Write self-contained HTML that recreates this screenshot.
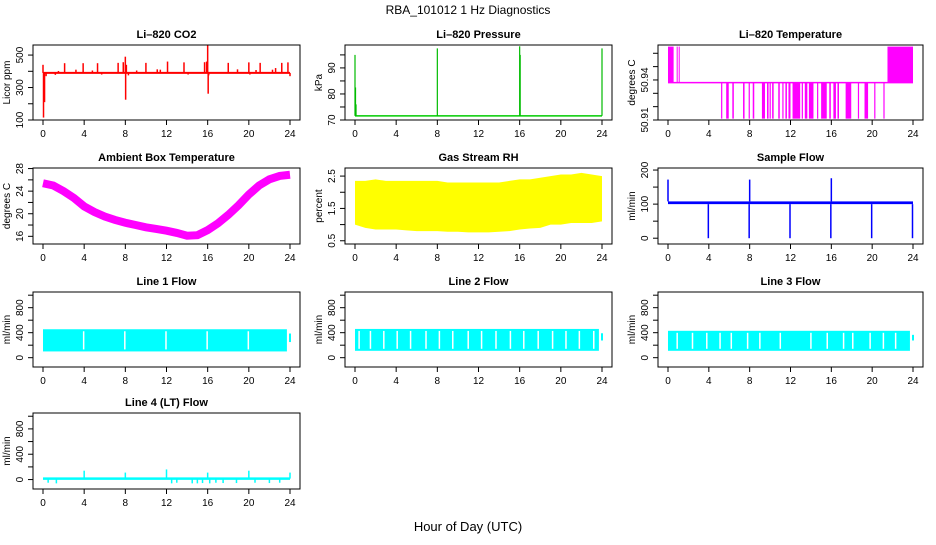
<!DOCTYPE html>
<html><head><meta charset="utf-8"><style>
body{margin:0;background:#fff;width:936px;height:540px;overflow:hidden}
svg text{font-family:"Liberation Sans",sans-serif;fill:#000}
</style></head><body>
<svg id="chart" width="936" height="540" viewBox="0 0 936 540">
<text x="468" y="14" text-anchor="middle" font-size="12">RBA_101012  1 Hz Diagnostics</text>
<text x="468" y="531" text-anchor="middle" font-size="13">Hour of Day (UTC)</text>
</svg>
<script>
const xTicks=[0,4,8,12,16,20,24];
// CO2
const co2Base=390;
const co2Spikes=[[0,440],[0.05,115],[0.15,210],[0.3,370],[1.2,378],[1.5,402],[2.1,450],[3.2,410],[3.9,450],[4.8,405],[5.3,450],[5.7,380],[7.3,452],[7.8,456],[8,490],[8.03,225],[8.1,440],[8.3,375],[9.1,405],[10,452],[11.1,412],[11.4,410],[12.1,460],[13.7,455],[14.1,380],[15.7,456],[15.9,460],[16,565],[16.05,262],[16.1,375],[18,452],[18.9,412],[20,455],[20.1,380],[20.7,408],[21.1,452],[22.3,410],[22.6,420],[23.2,452],[23.8,455],[24,370]];
// Pressure
const presBase=71.6;
const presSpikes=[[0,95],[0.05,82.5],[0.1,76],[8,97.5],[16,98.3],[16.05,95],[24,97.5]];
// Li-820 temperature steps
const tempHigh=50.965, tempMid=50.938, tempLow=50.911;
const tempHighBlocks=[[0,0.55],[0.85,0.9],[1.05,1.1],[21.5,24]];
const tempLowBlocks=[[5.2,5.25],[5.7,5.95],[6.3,6.45],[7.35,7.5],[7.9,7.95],[8.3,8.45],[9.2,9.5],[9.7,9.85],[9.95,10.05],[10.2,10.35],[10.8,10.95],[11.2,11.3],[11.5,11.65],[11.8,12.0],[12.2,12.95],[13.1,13.2],[13.4,13.65],[13.8,14.25],[14.6,14.7],[15.0,15.55],[15.8,15.95],[16.2,16.45],[16.6,16.75],[17.4,17.95],[18.6,18.7],[19.25,19.6],[20.2,20.3],[21.1,21.15]];
// Ambient box temperature (hourly)
const ambHours=[0,1,2,3,4,5,6,7,8,9,10,11,12,13,14,15,16,17,18,19,20,21,22,23,24];
const ambVals=[25.4,25,24,22.8,21.3,20.3,19.5,18.9,18.4,18,17.6,17.3,17,16.6,16.1,16.2,17.1,18.3,19.8,21.5,23.4,25,26.1,26.7,26.9];
// Gas Stream RH band (hourly min/max)
const rhHours=[0,1,2,3,4,5,6,7,8,9,10,11,12,13,14,15,16,17,18,19,20,21,22,23,24];
const rhMin=[1.0,0.9,0.85,0.85,0.85,0.82,0.8,0.8,0.8,0.78,0.78,0.76,0.76,0.76,0.78,0.8,0.85,0.88,0.9,1.0,1.0,1.05,1.05,1.05,1.1];
const rhMax=[2.35,2.35,2.4,2.35,2.35,2.35,2.35,2.35,2.35,2.3,2.3,2.3,2.3,2.3,2.3,2.35,2.4,2.4,2.45,2.5,2.55,2.55,2.6,2.55,2.5];
// Sample flow
const sfBase=[100,108];
const sfDrops=[4,8,12,16,20,24];
const sfSpikes=[[0,172],[8,172],[16,176]];
// Line flows
const l1Band=[100,455];
const l1Gaps=[3.95,7.95,11.95,15.95,19.95];
const l2Band=[110,460];
const l2Gaps=[0.4,1.5,2.8,4.1,5.4,6.9,8.2,9.5,11.0,12.3,13.7,15.1,16.4,17.8,19.2,20.5,21.8,23.2];
const l3Band=[110,430];
const l3Gaps=[0.9,2.4,3.8,5.1,6.2,7.8,9.0,11.0,14.0,15.6,17.2,18.1,19.8,21.1,22.3];
const l4Base=15;
const l4Spikes=[[4,140],[8,110],[12,160],[16,110],[20,140],[24,110],[0.5,-50],[1.3,-60],[12.5,-60],[13,-50],[14.5,-60],[15,-60],[15.5,-55],[16.2,-60],[16.8,-50],[17.5,-55],[18.8,-55],[20.6,-50],[22,-55],[23,-50]];

const cols=[[33,300],[345,612],[658,923]];
const rows=[[45,120],[168,244],[292,367],[413,489]];
const svg=document.getElementById('chart');
const NS='http://www.w3.org/2000/svg';
function mk(tag,attrs,parent){const e=document.createElementNS(NS,tag);for(const k in attrs)e.setAttribute(k,attrs[k]);(parent||svg).appendChild(e);return e;}

function panel(name,title,ylab,c,r,ymin,ymax,yt,yl){
  const [L,R]=cols[c],[T,B]=rows[r];
  const g=mk('g',{});
  
  
  const xs=h=>L+10+h/24*(R-L-20);
  const ys=v=>B-(v-ymin)/(ymax-ymin)*(B-T);
  const t=mk('text',{x:(L+R)/2,y:T-7,'text-anchor':'middle','font-size':'11','font-weight':'bold'},g);t.textContent=title;
  
  
  const pg=mk('g',{},g);
  
  
  const box=mk('rect',{x:L,y:T,width:R-L,height:B-T,fill:'none',stroke:'#000','stroke-width':1},g);
  
  
  const ax=mk('g',{},g);
  
  
  xTicks.forEach(h=>{mk('line',{x1:xs(h),x2:xs(h),y1:B,y2:B+5,stroke:'#000'},ax);
    const tt=mk('text',{x:xs(h),y:B+17,'text-anchor':'middle','font-size':'10'},ax);tt.textContent=h;});
  const ay=mk('g',{},g);
  
  
  yt.forEach(v=>{mk('line',{x1:L-5,x2:L,y1:ys(v),y2:ys(v),stroke:'#000'},ay);});
  yl.forEach(v=>{const tt=mk('text',{x:L-10,y:ys(v),'text-anchor':'middle','font-size':'10',transform:`rotate(-90 ${L-10} ${ys(v)})`},ay);tt.textContent=v;});
  const yt2=mk('text',{x:L-23,y:(T+B)/2,'text-anchor':'middle','font-size':'10',transform:`rotate(-90 ${L-23} ${(T+B)/2})`},ay);yt2.textContent=ylab;
  
  
  return {g:pg,xs,ys};
}
function lineEl(p,x1,y1,x2,y2,col,w){return mk('line',{x1,y1,x2,y2,stroke:col,'stroke-width':w||1},p.g);}

// CO2
let p=panel('co2','Li\u2013820 CO2','Licor ppm',0,0,100,562,[100,200,300,400,500],[100,300,500]);
lineEl(p,p.xs(0),p.ys(co2Base),p.xs(24),p.ys(co2Base),'#f00',2);
co2Spikes.forEach(s=>{const l=lineEl(p,p.xs(s[0]),p.ys(co2Base),p.xs(s[0]),p.ys(s[1]),'#f00',1.5);});
// Pressure
p=panel('pressure','Li\u2013820 Pressure','kPa',1,0,70,98.8,[70,75,80,85,90,95],[70,80,90]);
lineEl(p,p.xs(0),p.ys(presBase),p.xs(24),p.ys(presBase),'#0c0',1.5);
presSpikes.forEach(s=>{lineEl(p,p.xs(s[0]),p.ys(presBase),p.xs(s[0]),p.ys(s[1]),'#0b0',1.2);});
// Temperature
p=panel('li820-temp','Li\u2013820 Temperature','degrees C',2,0,50.91,50.9662,[50.91,50.92,50.93,50.94,50.95,50.96],['50.91','50.94']);
lineEl(p,p.xs(0),p.ys(tempMid),p.xs(24),p.ys(tempMid),'#f0f',1.5);
tempHighBlocks.forEach(b=>{mk('rect',{x:p.xs(b[0]),y:p.ys(tempHigh),width:Math.max(1,p.xs(b[1])-p.xs(b[0])),height:p.ys(tempMid)-p.ys(tempHigh),fill:'#f0f'},p.g);});
tempLowBlocks.forEach(b=>{const x1=p.xs(b[0]),x2=p.xs(b[1]);
  mk('rect',{x:x1,y:p.ys(tempMid),width:Math.max(1.2,x2-x1),height:p.ys(tempLow)-p.ys(tempMid),fill:'#f0f'},p.g);});
// Ambient
p=panel('ambient-temp','Ambient Box Temperature','degrees C',0,1,14.64,28.1,[16,18,20,22,24,26,28],[16,20,24,28]);
mk('polyline',{points:ambHours.map((h,i)=>p.xs(h)+','+p.ys(ambVals[i])).join(' '),fill:'none',stroke:'#f0f','stroke-width':8},p.g);
// RH
p=panel('gas-rh','Gas Stream RH','percent',1,1,0.4,2.75,[0.5,1,1.5,2,2.5],[0.5,1.5,2.5]);
mk('polygon',{points:rhHours.map((h,i)=>p.xs(h)+','+p.ys(rhMax[i])).concat(rhHours.slice().reverse().map((h,i)=>p.xs(h)+','+p.ys(rhMin[rhHours.length-1-i]))).join(' '),fill:'#ff0'},p.g);
// Sample flow
p=panel('sample-flow','Sample Flow','ml/min',2,1,-17,206,[0,50,100,150,200],[0,100,200]);
mk('rect',{x:p.xs(0),y:p.ys(sfBase[1]),width:p.xs(24)-p.xs(0),height:p.ys(sfBase[0])-p.ys(sfBase[1]),fill:'#00f'},p.g);
sfDrops.forEach(h=>lineEl(p,p.xs(h)-0.5,p.ys(sfBase[0]),p.xs(h)-0.5,p.ys(0),'#00f',1.5));
sfSpikes.forEach(s=>lineEl(p,p.xs(s[0]),p.ys(sfBase[1]),p.xs(s[0]),p.ys(s[1]),'#00f',1.5));
// Line flows
function flow(name,title,c,r,band,gaps){
  const q=panel(name,title,'ml/min',c,r,-149,1051,[0,200,400,600,800,1000],[0,400,800]);
  mk('rect',{x:q.xs(0),y:q.ys(band[1]),width:q.xs(23.7)-q.xs(0),height:q.ys(band[0])-q.ys(band[1]),fill:'#0ff'},q.g);
  gaps.forEach(h=>lineEl(q,q.xs(h),q.ys(band[1])+2,q.xs(h),q.ys(band[0])-2,'#fff',1.5));
  lineEl(q,q.xs(24),q.ys(band[1]*0.85),q.xs(24),q.ys(band[0]*2.5),'#0ff',2);
}
flow('line1-flow','Line 1 Flow',0,2,l1Band,l1Gaps);
flow('line2-flow','Line 2 Flow',1,2,l2Band,l2Gaps);
flow('line3-flow','Line 3 Flow',2,2,l3Band,l3Gaps);
p=panel('line4-flow','Line 4 (LT) Flow','ml/min',0,3,-149,1051,[0,200,400,600,800,1000],[0,400,800]);
lineEl(p,p.xs(0),p.ys(l4Base),p.xs(24),p.ys(l4Base),'#0ff',2.5);
l4Spikes.forEach(s=>lineEl(p,p.xs(s[0]),p.ys(l4Base),p.xs(s[0]),p.ys(s[1]),'#0ff',1.5));
</script>
</body></html>
